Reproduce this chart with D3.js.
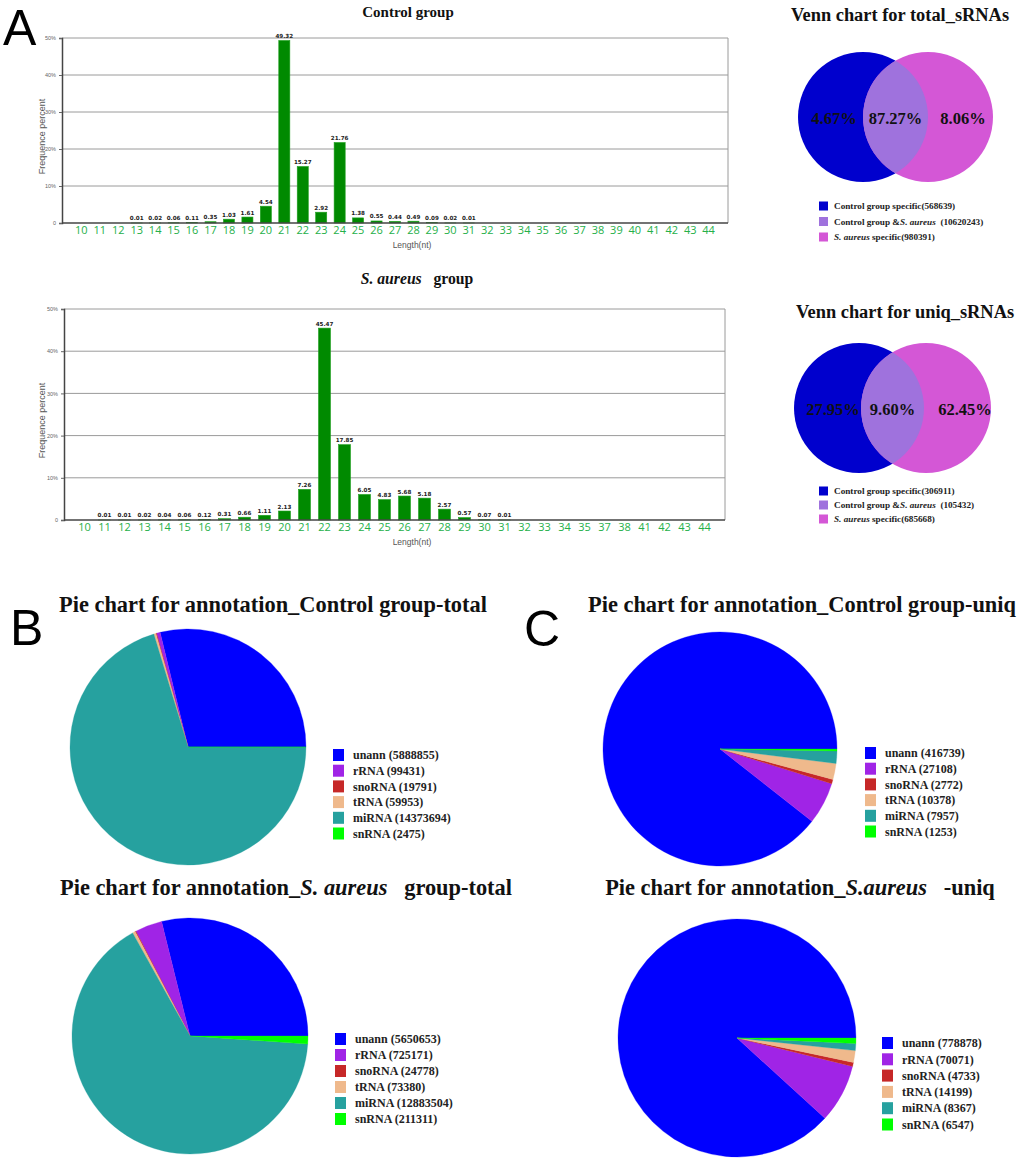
<!DOCTYPE html>
<html>
<head>
<meta charset="utf-8">
<script src="https://cdn.jsdelivr.net/npm/d3@7"></script>
<style>
  body { margin: 0; background: #fff; }
  svg { display: block; }
</style>
</head>
<body>
<script>
// length distribution, percent of reads
const ctrlLengths = d3.range(10, 45);
const ctrlFreq = [0, 0, 0, 0.01, 0.02, 0.06, 0.11, 0.35, 1.03, 1.61, 4.54, 49.32, 15.27, 2.92, 21.76,
    1.38, 0.55, 0.44, 0.49, 0.09, 0.02, 0.01, 0, 0, 0, 0, 0, 0, 0, 0, 0, 0, 0, 0, 0];
const saLengths = [10, 11, 12, 13, 14, 15, 16, 17, 18, 19, 20, 21, 22, 23, 24, 25, 26, 27, 28, 29, 30,
    31, 32, 33, 34, 35, 37, 38, 41, 42, 43, 44];
const saFreq = [0, 0.01, 0.01, 0.02, 0.04, 0.06, 0.12, 0.31, 0.66, 1.11, 2.13, 7.26, 45.47, 17.85, 6.05,
    4.83, 5.68, 5.18, 2.57, 0.57, 0.07, 0.01, 0, 0, 0, 0, 0, 0, 0, 0, 0, 0];
const yTicks = [0, 10, 20, 30, 40, 50];

// venn charts
const vennColors = ["#0000cd", "#9f72dd", "#d457d6"];
const vennTotalPct = ["4.67%", "87.27%", "8.06%"];
const vennTotalCounts = [568639, 10620243, 980391];
const vennUniqPct = ["27.95%", "9.60%", "62.45%"];
const vennUniqCounts = [306911, 105432, 685668];

// annotation pies
const annoTypes = ["unann", "rRNA", "snoRNA", "tRNA", "miRNA", "snRNA"];
const annoColors = ["#0000ff", "#a024e6", "#c62828", "#efb98c", "#26a19f", "#00ff00"];
const ctrlTotalCounts = [5888855, 99431, 19791, 59953, 14373694, 2475];
const saTotalCounts = [5650653, 725171, 24778, 73380, 12883504, 211311];
const ctrlUniqCounts = [416739, 27108, 2772, 10378, 7957, 1253];
const saUniqCounts = [778878, 70071, 4733, 14199, 8367, 6547];

const width = 1024;
const height = 1163;
const serif = "'Liberation Serif', 'Times New Roman', serif";
const sans = "'Liberation Sans', Arial, sans-serif";

const svg = d3.select("body").append("svg")
    .attr("width", width)
    .attr("height", height)
    .style("background", "#fff");

// panel letters
[["A", 3, 45], ["B", 10, 645], ["C", 524, 646]].forEach(([t, x, y]) => {
    svg.append("text").attr("x", x).attr("y", y).text(t)
        .style("font-family", sans).style("font-size", "50px").attr("fill", "#000");
});

function titleText(g, x, y, parts, size) {
    const t = g.append("text").attr("x", x).attr("y", y).attr("text-anchor", "middle")
        .style("font-family", serif).style("font-size", size + "px").style("font-weight", "bold")
        .attr("fill", "#111").style("white-space", "pre");
    parts.forEach(([s, it]) => t.append("tspan").text(s).style("font-style", it ? "italic" : "normal"));
    return t;
}

function barChart(opt) {
    const g = svg.append("g");
    const x = d3.scaleBand().domain(opt.lengths).range([opt.left, opt.right])
        .paddingInner(0.4).paddingOuter(opt.outer);
    const y = d3.scaleLinear().domain([0, 50]).range([opt.bottom, opt.top]);

    // grid lines
    g.append("g").selectAll("line").data(yTicks.slice(1)).join("line")
        .attr("x1", opt.left).attr("x2", opt.right)
        .attr("y1", d => y(d)).attr("y2", d => y(d))
        .attr("stroke", "#9a9a9a").attr("stroke-width", 1);
    g.append("line").attr("x1", opt.right).attr("x2", opt.right)
        .attr("y1", opt.top).attr("y2", opt.bottom).attr("stroke", "#9a9a9a");

    const data = opt.lengths.map((l, i) => ({ l, v: opt.values[i] }));
    g.append("g").selectAll("rect").data(data).join("rect")
        .attr("x", d => x(d.l)).attr("width", x.bandwidth())
        .attr("y", d => y(d.v)).attr("height", d => opt.bottom - y(d.v))
        .attr("fill", "#008a00").attr("stroke", "#1fa01f").attr("stroke-width", 0.6);

    g.append("g").selectAll("text").data(data.filter(d => d.v > 0)).join("text")
        .attr("x", d => x(d.l) + x.bandwidth() / 2).attr("y", d => y(d.v) - 2.5)
        .attr("text-anchor", "middle").text(d => d.v.toFixed(2))
        .style("font-family", "'DejaVu Sans', Verdana, sans-serif").style("font-size", "5.6px")
        .style("font-weight", "bold").attr("fill", "#222");

    const yAxis = d3.axisLeft(y).tickValues(yTicks).tickSize(3)
        .tickFormat(d => d === 0 ? "0" : d + "%");
    const ya = g.append("g").attr("transform", `translate(${opt.left},0)`).call(yAxis);
    ya.select(".domain").attr("stroke", "#444").attr("stroke-width", 1.5);
    ya.selectAll(".tick line").attr("stroke", "#666");
    ya.selectAll(".tick text").style("font-family", sans).style("font-size", "5.5px").attr("fill", "#666");

    const xAxis = d3.axisBottom(x).tickSize(0).tickPadding(3);
    const xa = g.append("g").attr("transform", `translate(0,${opt.bottom})`).call(xAxis);
    xa.select(".domain").attr("d", `M${opt.left},0H${opt.right}`).attr("stroke", "#444").attr("stroke-width", 1.5);
    xa.selectAll(".tick text").style("font-family", "'Open Sans', sans-serif").style("font-size", "11px")
        .attr("fill", "#25b049");

    g.append("text").attr("x", 412).attr("y", opt.bottom + 25).attr("text-anchor", "middle")
        .text("Length(nt)").style("font-family", sans).style("font-size", "8.5px").attr("fill", "#555");
    g.append("text").attr("transform", `translate(45,${(opt.top + opt.bottom) / 2 + 6}) rotate(-90)`)
        .attr("text-anchor", "middle").text("Frequence percent")
        .style("font-family", sans).style("font-size", "9px").attr("fill", "#555");

    titleText(g, opt.titleX, opt.titleY, opt.title, opt.titleSize);
}

barChart({
    lengths: ctrlLengths, values: ctrlFreq, left: 62, right: 728, top: 38, bottom: 223, outer: 0.75,
    title: [["Control group", false]], titleX: 408, titleY: 17, titleSize: 15
});
barChart({
    lengths: saLengths, values: saFreq, left: 64, right: 725, top: 309, bottom: 520, outer: 0.725,
    title: [["S. aureus", true], ["   group", false]], titleX: 417, titleY: 284, titleSize: 15.7
});

function venn(opt) {
    const g = svg.append("g");
    const id = opt.id;
    titleText(g, opt.titleX, opt.titleY, [[opt.title, false]], 18.4);
    const cx = d3.scaleLinear().domain([0, 1]).range([opt.cx0, opt.cx1]);
    g.append("circle").attr("cx", cx(0)).attr("cy", opt.cy).attr("r", opt.r).attr("fill", vennColors[0]);
    g.append("circle").attr("cx", cx(1)).attr("cy", opt.cy).attr("r", opt.r).attr("fill", vennColors[2]);
    g.append("clipPath").attr("id", id).append("circle")
        .attr("cx", cx(0)).attr("cy", opt.cy).attr("r", opt.r);
    g.append("circle").attr("cx", cx(1)).attr("cy", opt.cy).attr("r", opt.r)
        .attr("fill", vennColors[1]).attr("clip-path", `url(#${id})`);

    const lx = [opt.lx0, (cx(0) + cx(1)) / 2, opt.lx2];
    g.append("g").selectAll("text").data(opt.pct).join("text")
        .attr("x", (d, i) => lx[i]).attr("y", opt.cy + 1).attr("dy", "0.35em").attr("text-anchor", "middle")
        .text(d => d).style("font-family", serif).style("font-size", "16.5px").style("font-weight", "bold")
        .attr("fill", "#111");

    const names = [
        [["Control group specific(" + opt.counts[0] + ")", false]],
        [["Control group &", false], ["S. aureus", true], ["  (" + opt.counts[1] + ")", false]],
        [["S. aureus", true], [" specific(" + opt.counts[2] + ")", false]]
    ];
    names.forEach((parts, i) => {
        const yy = opt.legY + i * opt.legStep;
        g.append("rect").attr("x", opt.legX).attr("y", yy - 4.5).attr("width", 9).attr("height", 9)
            .attr("fill", vennColors[i]);
        const t = g.append("text").attr("x", opt.legX + 15).attr("y", yy).attr("dy", "0.35em")
            .style("font-family", serif).style("font-size", "9.2px").style("font-weight", "bold")
            .attr("fill", "#222").style("white-space", "pre");
        parts.forEach(([s, it]) => t.append("tspan").text(s).style("font-style", it ? "italic" : "normal"));
    });
}

venn({
    id: "clipTotal", title: "Venn chart for total_sRNAs", titleX: 900, titleY: 21,
    cx0: 863, cx1: 928, cy: 117, r: 65, lx0: 834, lx2: 963,
    pct: vennTotalPct, counts: vennTotalCounts, legX: 819, legY: 206, legStep: 15.5
});
venn({
    id: "clipUniq", title: "Venn chart for uniq_sRNAs", titleX: 905, titleY: 318,
    cx0: 859, cx1: 926, cy: 408, r: 65, lx0: 833, lx2: 965,
    pct: vennUniqPct, counts: vennUniqCounts, legX: 819, legY: 491, legStep: 14
});

function pieChart(opt) {
    const g = svg.append("g");
    titleText(g, opt.titleX, opt.titleY, opt.title, 22.4);
    const data = annoTypes.map((t, i) => ({ t, v: opt.counts[i], c: annoColors[i] }));
    const pie = d3.pie().value(d => d.v).sort(null)
        .startAngle(Math.PI / 2).endAngle(Math.PI / 2 - 2 * Math.PI);
    const arc = d3.arc().innerRadius(0).outerRadius(opt.r);
    g.append("g").attr("transform", `translate(${opt.cx},${opt.cy})`)
        .selectAll("path").data(pie(data)).join("path")
        .attr("d", arc).attr("fill", d => d.data.c).attr("stroke", d => d.data.c).attr("stroke-width", 0.3);

    const leg = g.append("g").attr("transform", `translate(${opt.legX},${opt.legY})`);
    leg.selectAll("rect").data(data).join("rect")
        .attr("x", 0).attr("y", (d, i) => i * opt.legStep - 6).attr("width", 11).attr("height", 12)
        .attr("fill", d => d.c);
    leg.selectAll("text").data(data).join("text")
        .attr("x", 20).attr("y", (d, i) => i * opt.legStep).attr("dy", "0.35em")
        .text(d => `${d.t} (${d.v})`)
        .style("font-family", serif).style("font-size", "12px").style("font-weight", "bold").attr("fill", "#222");
}

pieChart({
    title: [["Pie chart for annotation_Control group-total", false]], titleX: 273, titleY: 612,
    counts: ctrlTotalCounts, cx: 188, cy: 747, r: 118, legX: 333, legY: 755, legStep: 15.7
});
pieChart({
    title: [["Pie chart for annotation_", false], ["S. aureus", true], ["   group-total", false]], titleX: 286, titleY: 895,
    counts: saTotalCounts, cx: 190, cy: 1036, r: 118, legX: 335, legY: 1039, legStep: 16
});
pieChart({
    title: [["Pie chart for annotation_Control group-uniq", false]], titleX: 802, titleY: 612,
    counts: ctrlUniqCounts, cx: 720, cy: 749, r: 117, legX: 865, legY: 753, legStep: 15.7
});
pieChart({
    title: [["Pie chart for annotation_", false], ["S.aureus", true], ["   -uniq", false]], titleX: 800, titleY: 895,
    counts: saUniqCounts, cx: 737, cy: 1038, r: 119, legX: 882, legY: 1043, legStep: 16.3
});
</script>
</body>
</html>
